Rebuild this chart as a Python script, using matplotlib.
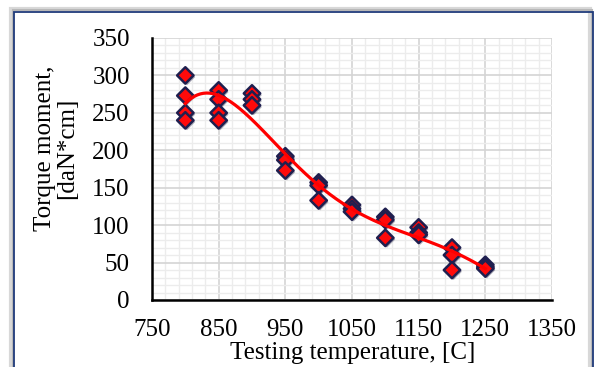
import matplotlib.pyplot as plt
import matplotlib.patheffects as pe
from matplotlib.patches import Rectangle
import numpy as np

temperature = [800, 800, 800, 800,
               850, 850, 850, 850,
               900, 900, 900,
               950, 950, 950,
               1000, 1000, 1000,
               1050, 1050, 1050,
               1100, 1100, 1100,
               1150, 1150, 1150,
               1200, 1200, 1200,
               1250, 1250, 1250]
torque = [300, 273, 250, 240,
          280, 268, 250, 240,
          276, 268, 260,
          192, 187, 173,
          157, 153, 133,
          127, 122, 118,
          111, 107, 83,
          97, 90, 87,
          70, 60, 40,
          47, 44, 42]

x_ticks = [750, 850, 950, 1050, 1150, 1250, 1350]
y_ticks = [0, 50, 100, 150, 200, 250, 300, 350]

plt.rcParams['font.family'] = ['Liberation Serif', 'DejaVu Serif']

fig = plt.figure(figsize=(5.98, 3.67), dpi=100)
fig.patch.set_facecolor('white')

# outer frame (shadow drawn as a soft grey line first)
W, H = 598.0, 367.0
for off, col, lw in [(3, '#d8d8d8', 3.0), (1.5, '#b8b8b8', 1.5)]:
    fig.add_artist(Rectangle(((14 - off) / W, -0.1), (593 - 14) / W, 1 - (12 - off) / H + 0.1,
                             transform=fig.transFigure, fill=False, edgecolor=col, linewidth=lw))
fig.add_artist(Rectangle((14 / W, -0.1), (593 - 14) / W, 1 - 12 / H + 0.1,
                         transform=fig.transFigure, fill=False, edgecolor='#1f3a7a', linewidth=1.3))

ax = fig.add_axes([152 / W, 1 - 300 / H, 400 / W, 262 / H])
ax.set_xlim(750, 1350)
ax.set_ylim(0, 350)
ax.set_xticks(x_ticks)
ax.set_yticks(y_ticks)
ax.set_xticks(np.arange(750, 1351, 20), minor=True)
ax.set_yticks(np.arange(0, 351, 10), minor=True)
ax.grid(which='major', color='#d4d4d4', linewidth=1.2)
ax.grid(which='minor', color='#ececec', linewidth=1.0)
ax.set_axisbelow(True)
ax.tick_params(which='both', length=0)
ax.tick_params(axis='y', pad=16, labelsize=18)
ax.tick_params(axis='x', pad=14, labelsize=18)
for s in ['top', 'right']:
    ax.spines[s].set_visible(False)
for s in ['left', 'bottom']:
    ax.spines[s].set_linewidth(1.8)
    ax.spines[s].set_color('black')

# polynomial trendline through the measured points
coef = np.polyfit(temperature, torque, 5)
xs = np.linspace(800, 1250, 200)
ax.plot(xs, np.polyval(coef, xs), color='#ff0000', linewidth=2.3, zorder=4)

ax.scatter(temperature, torque, marker='D', s=70, color='#ff0a0a',
           edgecolors='#1f1f4f', linewidths=1.8, zorder=3,
           path_effects=[pe.SimplePatchShadow(offset=(1.2, -1.2), shadow_rgbFace='#202040', alpha=0.35),
                         pe.Normal()])

ax.set_xlabel('Testing temperature, [C]', fontsize=18)
ax.xaxis.set_label_coords(0.5025, -0.16)
ax.set_ylabel('Torque moment,\n[daN*cm]', fontsize=18, linespacing=1.05)
ax.yaxis.label.set_verticalalignment('center')
ax.yaxis.set_label_coords(-0.24, 0.58)

fig.savefig('out.png', dpi=100)
